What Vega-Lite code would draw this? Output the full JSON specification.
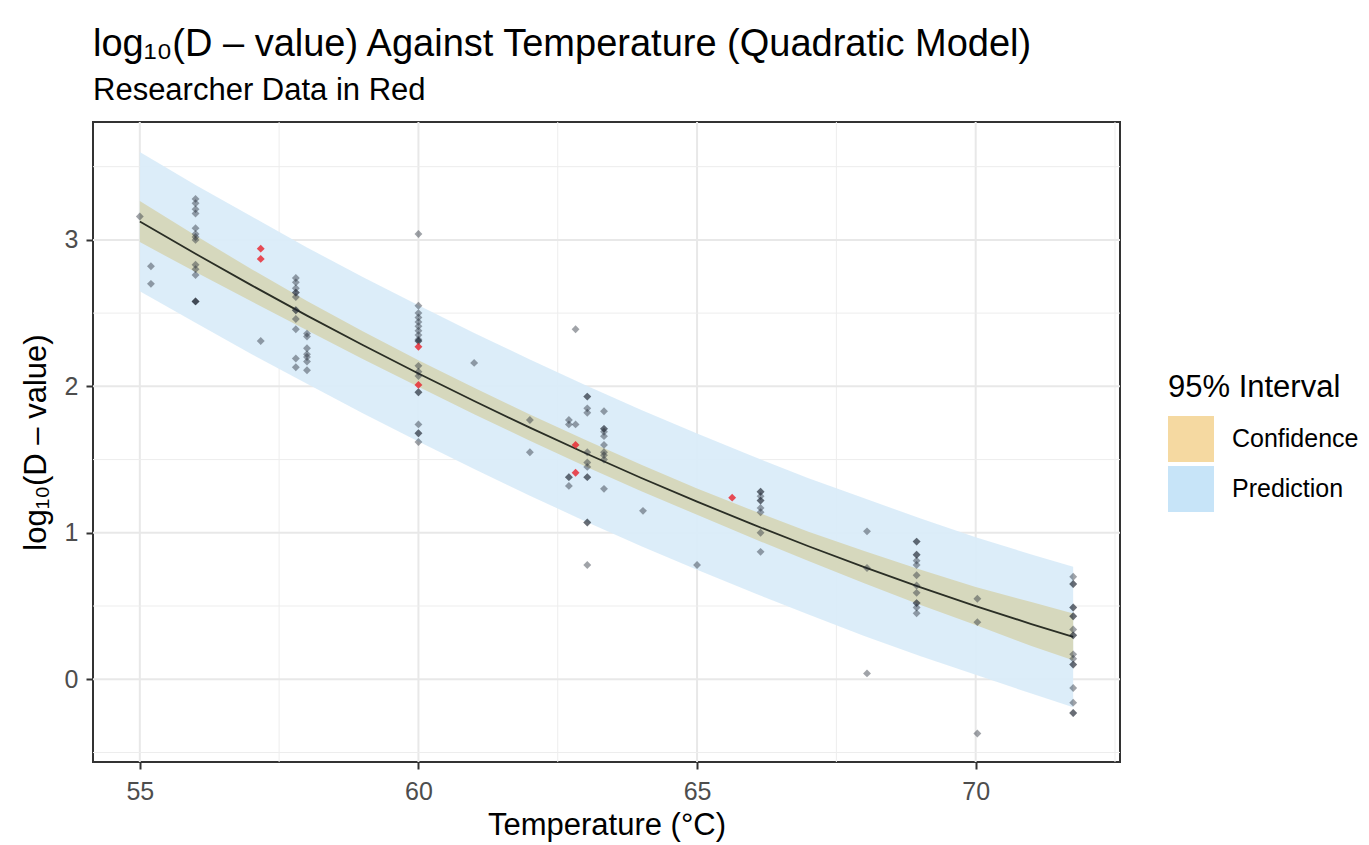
{
  "$schema": "https://vega.github.io/schema/vega-lite/v6.json",
  "width": 1027,
  "height": 640,
  "autosize": {"type": "none"},
  "padding": {"left": 93, "top": 122, "right": 249, "bottom": 83},
  "background": "white",
  "title": {
    "text": "log₁₀(D – value) Against Temperature (Quadratic Model)",
    "subtitle": "Researcher Data in Red",
    "anchor": "start",
    "frame": "group",
    "font": "Liberation Sans",
    "fontSize": 38,
    "fontWeight": "normal",
    "color": "black",
    "subtitleFont": "Liberation Sans",
    "subtitleFontSize": 31,
    "subtitleColor": "black",
    "subtitlePadding": 12,
    "offset": 15
  },
  "config": {
    "view": {"stroke": "#333333", "strokeWidth": 2},
    "axis": {
      "grid": false,
      "domain": false,
      "tickColor": "#333333",
      "tickWidth": 2,
      "tickSize": 7,
      "labelFont": "Liberation Sans",
      "labelFontSize": 25,
      "labelColor": "#4d4d4d",
      "titleFont": "Liberation Sans",
      "titleFontSize": 31,
      "titleFontWeight": "normal",
      "titleColor": "black"
    },
    "axisX": {"labelPadding": 10, "titlePadding": 6},
    "axisY": {"labelPadding": 8, "titlePadding": 12},
    "legend": {
      "titleFont": "Liberation Sans",
      "titleFontSize": 31,
      "titleFontWeight": "normal",
      "titleColor": "black",
      "labelFont": "Liberation Sans",
      "labelFontSize": 25,
      "labelColor": "black"
    }
  },
  "datasets": {
    "gridx": [
      {"t": 55, "kind": "major"}, {"t": 60, "kind": "major"}, {"t": 65, "kind": "major"}, {"t": 70, "kind": "major"},
      {"t": 57.5, "kind": "minor"}, {"t": 62.5, "kind": "minor"}, {"t": 67.5, "kind": "minor"}, {"t": 72.5, "kind": "minor"}
    ],
    "gridy": [
      {"d": 0, "kind": "major"}, {"d": 1, "kind": "major"}, {"d": 2, "kind": "major"}, {"d": 3, "kind": "major"},
      {"d": -0.5, "kind": "minor"}, {"d": 0.5, "kind": "minor"}, {"d": 1.5, "kind": "minor"}, {"d": 2.5, "kind": "minor"}, {"d": 3.5, "kind": "minor"}
    ],
    "bands": [
      {"t": 55, "fit": 3.125, "clo": 2.985, "chi": 3.265, "plo": 2.65, "phi": 3.6},
      {"t": 56, "fit": 2.905, "clo": 2.78, "chi": 3.03, "plo": 2.435, "phi": 3.375},
      {"t": 57, "fit": 2.691, "clo": 2.581, "chi": 2.801, "plo": 2.221, "phi": 3.161},
      {"t": 58, "fit": 2.483, "clo": 2.383, "chi": 2.583, "plo": 2.018, "phi": 2.948},
      {"t": 59, "fit": 2.282, "clo": 2.187, "chi": 2.377, "plo": 1.817, "phi": 2.747},
      {"t": 60, "fit": 2.088, "clo": 1.998, "chi": 2.178, "plo": 1.623, "phi": 2.553},
      {"t": 61, "fit": 1.9, "clo": 1.81, "chi": 1.99, "plo": 1.435, "phi": 2.365},
      {"t": 62, "fit": 1.718, "clo": 1.628, "chi": 1.808, "plo": 1.253, "phi": 2.183},
      {"t": 63, "fit": 1.543, "clo": 1.453, "chi": 1.633, "plo": 1.078, "phi": 2.008},
      {"t": 64, "fit": 1.374, "clo": 1.284, "chi": 1.464, "plo": 0.909, "phi": 1.839},
      {"t": 65, "fit": 1.213, "clo": 1.123, "chi": 1.303, "plo": 0.748, "phi": 1.678},
      {"t": 66, "fit": 1.057, "clo": 0.962, "chi": 1.152, "plo": 0.592, "phi": 1.522},
      {"t": 67, "fit": 0.908, "clo": 0.808, "chi": 1.008, "plo": 0.443, "phi": 1.373},
      {"t": 68, "fit": 0.766, "clo": 0.656, "chi": 0.876, "plo": 0.296, "phi": 1.236},
      {"t": 69, "fit": 0.629, "clo": 0.509, "chi": 0.749, "plo": 0.159, "phi": 1.099},
      {"t": 70, "fit": 0.5, "clo": 0.37, "chi": 0.63, "plo": 0.03, "phi": 0.97},
      {"t": 71, "fit": 0.377, "clo": 0.227, "chi": 0.527, "plo": -0.098, "phi": 0.852},
      {"t": 71.75, "fit": 0.289, "clo": 0.129, "chi": 0.449, "plo": -0.191, "phi": 0.769}
    ],
    "intervals": [{"interval": "Confidence"}, {"interval": "Prediction"}],
    "pts": [
      {"t": 55.0, "d": 3.16, "src": "Literature"},
      {"t": 55.2, "d": 2.82, "src": "Literature"},
      {"t": 55.2, "d": 2.70, "src": "Literature"},
      {"t": 56.0, "d": 3.28, "src": "Literature"},
      {"t": 56.0, "d": 3.25, "src": "Literature"},
      {"t": 56.0, "d": 3.21, "src": "Literature"},
      {"t": 56.0, "d": 3.18, "src": "Literature"},
      {"t": 56.0, "d": 3.08, "src": "Literature"},
      {"t": 56.0, "d": 3.04, "src": "Literature"},
      {"t": 56.0, "d": 3.02, "src": "Literature"},
      {"t": 56.0, "d": 3.00, "src": "Literature"},
      {"t": 56.0, "d": 2.83, "src": "Literature"},
      {"t": 56.0, "d": 2.80, "src": "Literature"},
      {"t": 56.0, "d": 2.76, "src": "Literature"},
      {"t": 56.0, "d": 2.58, "src": "Literature"},
      {"t": 56.0, "d": 2.58, "src": "Literature"},
      {"t": 56.0, "d": 2.58, "src": "Literature"},
      {"t": 57.17, "d": 2.31, "src": "Literature"},
      {"t": 57.8, "d": 2.74, "src": "Literature"},
      {"t": 57.8, "d": 2.71, "src": "Literature"},
      {"t": 57.8, "d": 2.67, "src": "Literature"},
      {"t": 57.8, "d": 2.64, "src": "Literature"},
      {"t": 57.8, "d": 2.64, "src": "Literature"},
      {"t": 57.8, "d": 2.61, "src": "Literature"},
      {"t": 57.8, "d": 2.52, "src": "Literature"},
      {"t": 57.8, "d": 2.52, "src": "Literature"},
      {"t": 57.8, "d": 2.46, "src": "Literature"},
      {"t": 57.8, "d": 2.39, "src": "Literature"},
      {"t": 57.8, "d": 2.19, "src": "Literature"},
      {"t": 57.8, "d": 2.13, "src": "Literature"},
      {"t": 58.0, "d": 2.36, "src": "Literature"},
      {"t": 58.0, "d": 2.34, "src": "Literature"},
      {"t": 58.0, "d": 2.26, "src": "Literature"},
      {"t": 58.0, "d": 2.22, "src": "Literature"},
      {"t": 58.0, "d": 2.20, "src": "Literature"},
      {"t": 58.0, "d": 2.17, "src": "Literature"},
      {"t": 58.0, "d": 2.11, "src": "Literature"},
      {"t": 60.0, "d": 3.04, "src": "Literature"},
      {"t": 60.0, "d": 2.55, "src": "Literature"},
      {"t": 60.0, "d": 2.50, "src": "Literature"},
      {"t": 60.0, "d": 2.47, "src": "Literature"},
      {"t": 60.0, "d": 2.44, "src": "Literature"},
      {"t": 60.0, "d": 2.41, "src": "Literature"},
      {"t": 60.0, "d": 2.38, "src": "Literature"},
      {"t": 60.0, "d": 2.35, "src": "Literature"},
      {"t": 60.0, "d": 2.32, "src": "Literature"},
      {"t": 60.0, "d": 2.31, "src": "Literature"},
      {"t": 60.0, "d": 2.31, "src": "Literature"},
      {"t": 60.0, "d": 2.14, "src": "Literature"},
      {"t": 60.0, "d": 2.10, "src": "Literature"},
      {"t": 60.0, "d": 2.07, "src": "Literature"},
      {"t": 60.0, "d": 1.96, "src": "Literature"},
      {"t": 60.0, "d": 1.96, "src": "Literature"},
      {"t": 60.0, "d": 1.74, "src": "Literature"},
      {"t": 60.0, "d": 1.68, "src": "Literature"},
      {"t": 60.0, "d": 1.68, "src": "Literature"},
      {"t": 60.0, "d": 1.62, "src": "Literature"},
      {"t": 61.0, "d": 2.16, "src": "Literature"},
      {"t": 62.0, "d": 1.77, "src": "Literature"},
      {"t": 62.0, "d": 1.55, "src": "Literature"},
      {"t": 62.7, "d": 1.77, "src": "Literature"},
      {"t": 62.7, "d": 1.74, "src": "Literature"},
      {"t": 62.7, "d": 1.38, "src": "Literature"},
      {"t": 62.7, "d": 1.38, "src": "Literature"},
      {"t": 62.7, "d": 1.32, "src": "Literature"},
      {"t": 62.82, "d": 2.39, "src": "Literature"},
      {"t": 62.82, "d": 1.74, "src": "Literature"},
      {"t": 63.03, "d": 1.93, "src": "Literature"},
      {"t": 63.03, "d": 1.93, "src": "Literature"},
      {"t": 63.03, "d": 1.85, "src": "Literature"},
      {"t": 63.03, "d": 1.82, "src": "Literature"},
      {"t": 63.03, "d": 1.55, "src": "Literature"},
      {"t": 63.03, "d": 1.48, "src": "Literature"},
      {"t": 63.03, "d": 1.45, "src": "Literature"},
      {"t": 63.03, "d": 1.38, "src": "Literature"},
      {"t": 63.03, "d": 1.38, "src": "Literature"},
      {"t": 63.03, "d": 1.07, "src": "Literature"},
      {"t": 63.03, "d": 1.07, "src": "Literature"},
      {"t": 63.03, "d": 0.78, "src": "Literature"},
      {"t": 63.33, "d": 1.83, "src": "Literature"},
      {"t": 63.33, "d": 1.71, "src": "Literature"},
      {"t": 63.33, "d": 1.71, "src": "Literature"},
      {"t": 63.33, "d": 1.69, "src": "Literature"},
      {"t": 63.33, "d": 1.66, "src": "Literature"},
      {"t": 63.33, "d": 1.60, "src": "Literature"},
      {"t": 63.33, "d": 1.55, "src": "Literature"},
      {"t": 63.33, "d": 1.53, "src": "Literature"},
      {"t": 63.33, "d": 1.50, "src": "Literature"},
      {"t": 63.33, "d": 1.30, "src": "Literature"},
      {"t": 64.03, "d": 1.15, "src": "Literature"},
      {"t": 65.0, "d": 0.78, "src": "Literature"},
      {"t": 66.14, "d": 1.28, "src": "Literature"},
      {"t": 66.14, "d": 1.28, "src": "Literature"},
      {"t": 66.14, "d": 1.25, "src": "Literature"},
      {"t": 66.14, "d": 1.22, "src": "Literature"},
      {"t": 66.14, "d": 1.22, "src": "Literature"},
      {"t": 66.14, "d": 1.17, "src": "Literature"},
      {"t": 66.14, "d": 1.14, "src": "Literature"},
      {"t": 66.14, "d": 1.00, "src": "Literature"},
      {"t": 66.14, "d": 0.87, "src": "Literature"},
      {"t": 68.05, "d": 1.01, "src": "Literature"},
      {"t": 68.05, "d": 0.76, "src": "Literature"},
      {"t": 68.05, "d": 0.04, "src": "Literature"},
      {"t": 68.94, "d": 0.94, "src": "Literature"},
      {"t": 68.94, "d": 0.94, "src": "Literature"},
      {"t": 68.94, "d": 0.85, "src": "Literature"},
      {"t": 68.94, "d": 0.85, "src": "Literature"},
      {"t": 68.94, "d": 0.81, "src": "Literature"},
      {"t": 68.94, "d": 0.78, "src": "Literature"},
      {"t": 68.94, "d": 0.71, "src": "Literature"},
      {"t": 68.94, "d": 0.64, "src": "Literature"},
      {"t": 68.94, "d": 0.59, "src": "Literature"},
      {"t": 68.94, "d": 0.52, "src": "Literature"},
      {"t": 68.94, "d": 0.52, "src": "Literature"},
      {"t": 68.94, "d": 0.49, "src": "Literature"},
      {"t": 68.94, "d": 0.45, "src": "Literature"},
      {"t": 70.03, "d": 0.55, "src": "Literature"},
      {"t": 70.03, "d": 0.39, "src": "Literature"},
      {"t": 70.03, "d": -0.37, "src": "Literature"},
      {"t": 71.75, "d": 0.70, "src": "Literature"},
      {"t": 71.75, "d": 0.65, "src": "Literature"},
      {"t": 71.75, "d": 0.65, "src": "Literature"},
      {"t": 71.75, "d": 0.49, "src": "Literature"},
      {"t": 71.75, "d": 0.49, "src": "Literature"},
      {"t": 71.75, "d": 0.43, "src": "Literature"},
      {"t": 71.75, "d": 0.43, "src": "Literature"},
      {"t": 71.75, "d": 0.34, "src": "Literature"},
      {"t": 71.75, "d": 0.30, "src": "Literature"},
      {"t": 71.75, "d": 0.30, "src": "Literature"},
      {"t": 71.75, "d": 0.17, "src": "Literature"},
      {"t": 71.75, "d": 0.14, "src": "Literature"},
      {"t": 71.75, "d": 0.10, "src": "Literature"},
      {"t": 71.75, "d": 0.10, "src": "Literature"},
      {"t": 71.75, "d": -0.06, "src": "Literature"},
      {"t": 71.75, "d": -0.16, "src": "Literature"},
      {"t": 71.75, "d": -0.23, "src": "Literature"},
      {"t": 71.75, "d": -0.23, "src": "Literature"},
      {"t": 57.17, "d": 2.94, "src": "Researcher"},
      {"t": 57.17, "d": 2.87, "src": "Researcher"},
      {"t": 60.0, "d": 2.27, "src": "Researcher"},
      {"t": 60.0, "d": 2.01, "src": "Researcher"},
      {"t": 62.82, "d": 1.60, "src": "Researcher"},
      {"t": 62.82, "d": 1.41, "src": "Researcher"},
      {"t": 65.63, "d": 1.24, "src": "Researcher"}
    ]
  },
  "layer": [
    {
      "data": {"name": "gridx"},
      "transform": [{"filter": "datum.kind == 'minor'"}],
      "mark": {"type": "rule", "color": "#ededed", "strokeWidth": 1},
      "encoding": {
        "x": {"field": "t", "type": "quantitative", "scale": {"domain": [54.16, 72.59], "nice": false, "zero": false}, "axis": {"values": [55, 60, 65, 70]}, "title": "Temperature (°C)"}
      }
    },
    {
      "data": {"name": "gridx"},
      "transform": [{"filter": "datum.kind == 'major'"}],
      "mark": {"type": "rule", "color": "#e8e8e8", "strokeWidth": 2},
      "encoding": {
        "x": {"field": "t", "type": "quantitative", "scale": {"domain": [54.16, 72.59], "nice": false, "zero": false}, "axis": {"values": [55, 60, 65, 70]}, "title": "Temperature (°C)"}
      }
    },
    {
      "data": {"name": "gridy"},
      "transform": [{"filter": "datum.kind == 'minor'"}],
      "mark": {"type": "rule", "color": "#ededed", "strokeWidth": 1},
      "encoding": {
        "y": {"field": "d", "type": "quantitative", "scale": {"domain": [-0.565, 3.805], "nice": false, "zero": false}, "axis": {"values": [0, 1, 2, 3]}, "title": "log₁₀(D – value)"}
      }
    },
    {
      "data": {"name": "gridy"},
      "transform": [{"filter": "datum.kind == 'major'"}],
      "mark": {"type": "rule", "color": "#e8e8e8", "strokeWidth": 2},
      "encoding": {
        "y": {"field": "d", "type": "quantitative", "scale": {"domain": [-0.565, 3.805], "nice": false, "zero": false}, "axis": {"values": [0, 1, 2, 3]}, "title": "log₁₀(D – value)"}
      }
    },
    {
      "data": {"name": "bands"},
      "mark": {"type": "area", "color": "#d9ecf9", "opacity": 0.92},
      "encoding": {
        "x": {"field": "t", "type": "quantitative", "scale": {"domain": [54.16, 72.59], "nice": false, "zero": false}, "axis": {"values": [55, 60, 65, 70]}, "title": "Temperature (°C)"},
        "y": {"field": "plo", "type": "quantitative", "scale": {"domain": [-0.565, 3.805], "nice": false, "zero": false}, "axis": {"values": [0, 1, 2, 3]}, "title": "log₁₀(D – value)"},
        "y2": {"field": "phi"}
      }
    },
    {
      "data": {"name": "bands"},
      "mark": {"type": "area", "color": "#d6d8bd"},
      "encoding": {
        "x": {"field": "t", "type": "quantitative", "scale": {"domain": [54.16, 72.59], "nice": false, "zero": false}, "axis": {"values": [55, 60, 65, 70]}, "title": "Temperature (°C)"},
        "y": {"field": "clo", "type": "quantitative", "scale": {"domain": [-0.565, 3.805], "nice": false, "zero": false}, "axis": {"values": [0, 1, 2, 3]}, "title": "log₁₀(D – value)"},
        "y2": {"field": "chi"}
      }
    },
    {
      "data": {"name": "bands"},
      "mark": {"type": "line", "color": "#2a2e25", "strokeWidth": 1.8},
      "encoding": {
        "x": {"field": "t", "type": "quantitative", "scale": {"domain": [54.16, 72.59], "nice": false, "zero": false}, "axis": {"values": [55, 60, 65, 70]}, "title": "Temperature (°C)"},
        "y": {"field": "fit", "type": "quantitative", "scale": {"domain": [-0.565, 3.805], "nice": false, "zero": false}, "axis": {"values": [0, 1, 2, 3]}, "title": "log₁₀(D – value)"}
      }
    },
    {
      "data": {"name": "pts"},
      "mark": {"type": "point", "shape": "diamond", "filled": true, "size": 62, "strokeWidth": 0},
      "encoding": {
        "x": {"field": "t", "type": "quantitative", "scale": {"domain": [54.16, 72.59], "nice": false, "zero": false}, "axis": {"values": [55, 60, 65, 70]}, "title": "Temperature (°C)"},
        "y": {"field": "d", "type": "quantitative", "scale": {"domain": [-0.565, 3.805], "nice": false, "zero": false}, "axis": {"values": [0, 1, 2, 3]}, "title": "log₁₀(D – value)"},
        "fill": {"field": "src", "type": "nominal", "scale": {"domain": ["Literature", "Researcher"], "range": ["#1c2430", "#e8202a"]}, "legend": null},
        "opacity": {"field": "src", "type": "nominal", "scale": {"domain": ["Literature", "Researcher"], "range": [0.42, 0.8]}, "legend": null}
      }
    },
    {
      "data": {"name": "intervals"},
      "mark": {"type": "square", "opacity": 0, "size": 1},
      "encoding": {
        "color": {
          "field": "interval",
          "type": "nominal",
          "scale": {"domain": ["Confidence", "Prediction"], "range": ["#f5d9a1", "#c7e4f8"]},
          "legend": {
            "title": "95% Interval",
            "orient": "none",
            "legendX": 1075,
            "legendY": 251,
            "padding": 0,
            "symbolType": "square",
            "symbolSize": 2116,
            "symbolStrokeWidth": 0,
            "symbolOpacity": 1,
            "rowPadding": 4,
            "labelOffset": 18,
            "titlePadding": 12
          }
        }
      }
    }
  ]
}
